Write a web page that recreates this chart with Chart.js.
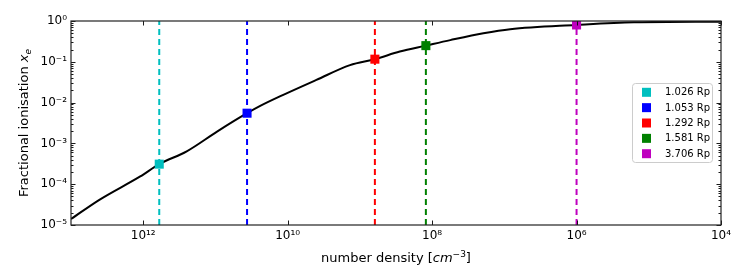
<!DOCTYPE html>
<html>
<head>
<meta charset="utf-8">
<script src="https://cdn.jsdelivr.net/npm/chart.js@4"></script>
<style>
  html, body { margin: 0; padding: 0; background: #fff; }
  #wrap { width: 747px; height: 280px; }
</style>
</head>
<body>
<div id="wrap"><canvas id="c" width="747" height="280"></canvas></div>
<script>
// ---- data ----
const curveDensity = [1e13, 4.0e12, 1.1e12, 6.0e11, 2.5e11, 9.5e10, 3.65e10, 2.4e10, 1.15e10, 4.0e9, 1.37e9, 6.2e8, 2.8e8, 1.22e8, 5.6e7, 1.95e7, 8.3e6, 1.0e6, 1.6e5, 1e4];
const curveIonisation = [1.4e-5, 4.2e-5, 1.55e-4, 3.1e-4, 6.4e-4, 1.95e-3, 5.5e-3, 8.3e-3, 1.55e-2, 3.6e-2, 8.3e-2, 0.116, 0.178, 0.249, 0.34, 0.50, 0.63, 0.80, 0.93, 0.965];
const markerLabels = ['1.026 Rp', '1.053 Rp', '1.292 Rp', '1.581 Rp', '3.706 Rp'];
const markerDensity = [6.0e11, 3.65e10, 6.2e8, 1.22e8, 1.0e6];
const markerIonisation = [3.1e-4, 5.5e-3, 0.116, 0.249, 0.80];
const xTicks = [1e12, 1e10, 1e8, 1e6, 1e4];
const yTicks = [1e-5, 1e-4, 1e-3, 1e-2, 1e-1, 1];
const xRange = [1e4, 1e13];
const yRange = [1e-5, 1];

// ---- styles ----
const markerColors = ['#00bfbf', '#0000ff', '#ff0000', '#008000', '#bf00bf'];
const FONT = "'DejaVu Sans', sans-serif";

const SUP = {'0':'⁰','1':'¹','2':'²','3':'³','4':'⁴','5':'⁵','6':'⁶','7':'⁷','8':'⁸','9':'⁹','-':'⁻'};
const sup = n => String(n).split('').map(ch => SUP[ch]).join('');
const powLabel = v => '10' + sup(Math.round(Math.log10(v)));

const datasets = [];
markerDensity.forEach((n, i) => {
  datasets.push({
    label: markerLabels[i],
    data: [{x: n, y: markerIonisation[i]}],
    showLine: false,
    pointStyle: 'rect',
    pointRadius: 6.4,
    pointBorderWidth: 0,
    backgroundColor: markerColors[i],
    borderColor: markerColors[i],
    order: 0
  });
});
datasets.push({
  label: 'curve',
  data: curveDensity.map((n, i) => ({x: n, y: curveIonisation[i]})),
  showLine: true,
  borderColor: '#000',
  borderWidth: 2,
  pointRadius: 0,
  cubicInterpolationMode: 'monotone',
  order: 1
});
markerDensity.forEach((n, i) => {
  datasets.push({
    label: 'vline' + i,
    data: [{x: n, y: yRange[0]}, {x: n, y: yRange[1]}],
    showLine: true,
    borderColor: markerColors[i],
    borderWidth: 2,
    borderDash: [6, 4],
    pointRadius: 0,
    order: 2
  });
});

const decorPlugin = {
  id: 'decor',
  afterDatasetsDraw(chart) {
    const {ctx, chartArea: a, scales: {x, y}} = chart;
    ctx.save();
    // ticks (inward, all four sides)
    ctx.strokeStyle = '#000';
    ctx.lineWidth = 0.9;
    ctx.beginPath();
    xTicks.forEach(v => {
      const px = Math.round(x.getPixelForValue(v)) + 0.5;
      ctx.moveTo(px, a.bottom); ctx.lineTo(px, a.bottom - 4.5);
      ctx.moveTo(px, a.top); ctx.lineTo(px, a.top + 4.5);
    });
    yTicks.forEach((v, idx) => {
      const py = Math.round(y.getPixelForValue(v)) + 0.5;
      ctx.moveTo(a.left, py); ctx.lineTo(a.left + 4.5, py);
      ctx.moveTo(a.right, py); ctx.lineTo(a.right - 4.5, py);
      if (idx < yTicks.length - 1) {
        for (let k = 2; k <= 9; k++) {
          const pm = Math.round(y.getPixelForValue(v * k)) + 0.5;
          ctx.moveTo(a.left, pm); ctx.lineTo(a.left + 2.5, pm);
          ctx.moveTo(a.right, pm); ctx.lineTo(a.right - 2.5, pm);
        }
      }
    });
    ctx.stroke();
    // frame
    ctx.strokeStyle = '#222';
    ctx.lineWidth = 1.2;
    ctx.strokeRect(a.left, a.top, a.right - a.left, a.bottom - a.top);

    // legend
    const lx = a.right - 89, ly = a.top + 62, lw = 80, lh = 79;
    ctx.fillStyle = 'rgba(255,255,255,0.85)';
    ctx.strokeStyle = '#cccccc';
    ctx.lineWidth = 1;
    ctx.beginPath();
    ctx.roundRect(lx + 0.5, ly + 0.5, lw, lh, 3);
    ctx.fill();
    ctx.stroke();
    ctx.font = '10px ' + FONT;
    ctx.textBaseline = 'middle';
    ctx.textAlign = 'left';
    markerLabels.forEach((lab, i) => {
      const cy = ly + 9.3 + i * 15.35;
      ctx.fillStyle = markerColors[i];
      ctx.fillRect(lx + 10, cy - 4.5, 9, 9);
      ctx.fillStyle = '#000';
      ctx.fillText(lab, lx + 33, cy + 0.5);
    });
    ctx.restore();
  },
  afterDraw(chart) {
    const {ctx, chartArea: a} = chart;
    ctx.save();
    ctx.fillStyle = '#000';
    ctx.textBaseline = 'alphabetic';
    ctx.textAlign = 'left';
    const big = '13px ' + FONT, ital = 'italic 13px ' + FONT, small = 'italic 9px ' + FONT;
    // x title: number density [cm^-3]
    const xParts = [
      {t: 'number density [', f: big, dy: 0},
      {t: 'cm', f: ital, dy: 0},
      {t: '\u22123', f: '9px ' + FONT, dy: -5},
      {t: ']', f: big, dy: 0}
    ];
    const drawParts = (parts, cx, by) => {
      let w = 0;
      parts.forEach(p => { ctx.font = p.f; p.w = ctx.measureText(p.t).width; w += p.w; });
      let xx = cx - w / 2;
      parts.forEach(p => { ctx.font = p.f; ctx.fillText(p.t, xx, by + p.dy); xx += p.w; });
    };
    drawParts(xParts, (a.left + a.right) / 2, 262);
    // y title: Fractional ionisation x_e
    ctx.translate(28, (a.top + a.bottom) / 2);
    ctx.rotate(-Math.PI / 2);
    const yParts = [
      {t: 'Fractional ionisation ', f: big, dy: 0},
      {t: 'x', f: ital, dy: 0},
      {t: 'e', f: small, dy: 2.5}
    ];
    drawParts(yParts, 0, 0);
    ctx.restore();
  }
};

new Chart(document.getElementById('c'), {
  type: 'scatter',
  data: { datasets },
  options: {
    responsive: false,
    animation: false,
    layout: { padding: { left: 0, right: 26, top: 21, bottom: 0 } },
    plugins: { legend: { display: false }, tooltip: { enabled: false } },
    scales: {
      x: {
        type: 'logarithmic',
        min: xRange[0], max: xRange[1],
        reverse: true,
        grid: { display: false, drawTicks: false },
        border: { display: false },
        afterBuildTicks: s => { s.ticks = xTicks.map(v => ({value: v})); },
        afterFit: s => { s.height = 55; },
        ticks: {
          autoSkip: false, maxRotation: 0, padding: 4, color: '#000',
          font: { family: FONT, size: 12 },
          callback: v => powLabel(v)
        }
      },
      y: {
        type: 'logarithmic',
        min: yRange[0], max: yRange[1],
        grid: { display: false, drawTicks: false },
        border: { display: false },
        afterBuildTicks: s => { s.ticks = yTicks.map(v => ({value: v})); },
        afterFit: s => { s.width = 71; },
        ticks: {
          autoSkip: false, padding: 4, color: '#000',
          font: { family: FONT, size: 12 },
          callback: v => powLabel(v)
        }
      }
    }
  },
  plugins: [decorPlugin]
});
</script>
</body>
</html>
